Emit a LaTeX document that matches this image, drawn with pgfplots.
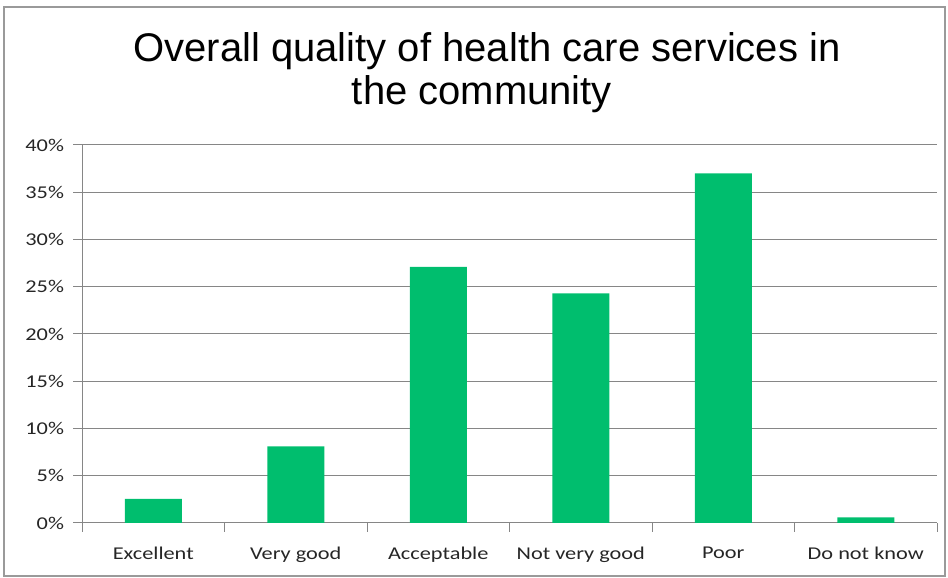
\documentclass[border=0pt]{standalone}
\usepackage{fontspec}
\setmainfont[FakeStretch=1.24]{Carlito}
\newfontfamily\titlefont{Liberation Sans}
\usepackage{pgfplots}
\pgfplotsset{compat=1.18}
\definecolor{barg}{HTML}{00BE6E}
\definecolor{gridc}{HTML}{868686}
\definecolor{framec}{HTML}{9A9A9A}
\begin{document}
\begin{tikzpicture}[x=1pt,y=1pt]
\begin{axis}[
  scale only axis, width=855pt, height=378pt,
  xmin=-0.5, xmax=5.5, ymin=0, ymax=40,
  axis x line*=bottom, axis y line*=left,
  axis line style={draw=gridc, line width=1pt, -},
  xtick={0,...,5},
  xticklabels={Excellent,Very good,Acceptable,Not very good,Poor,Do not know},
  major x tick style={draw=none},
  minor xtick={-0.5,0.5,1.5,2.5,3.5,4.5,5.5},
  minor x tick style={draw=gridc, line width=1pt},
  ytick={0,5,...,40},
  yticklabels={0\%,5\%,10\%,15\%,20\%,25\%,30\%,35\%,40\%},
  ymajorgrids,
  grid style={draw=gridc, line width=1pt},
  major y tick style={draw=gridc, line width=1pt},
  tick align=outside,
  major tick length=9pt, minor tick length=9pt,
  ticklabel style={font=\fontsize{18}{21}\selectfont, text=black!85},
  xticklabel style={yshift=-11pt},
  yticklabel style={xshift=-5.5pt},
  bar width=0.4,
  clip=false,
]
\addplot[ybar, fill=barg, draw=none] coordinates {
  (0,2.55) (1,8.1) (2,27.1) (3,24.3) (4,37.0) (5,0.6)
};
\path (rel axis cs:-0.09591,-0.14550) rectangle (rel axis cs:1.01287,1.38360);
\draw[framec, line width=1.3pt] (rel axis cs:-0.09123,-0.14021) rectangle (rel axis cs:1.00936,1.36508);
\node[font=\titlefont\fontsize{40}{45}\selectfont, anchor=base, text=black, inner sep=0pt]
  at (rel axis cs:0.47368,1.21958) {Overall quality of health care services in};
\node[font=\titlefont\fontsize{40}{45}\selectfont, anchor=base, text=black, inner sep=0pt]
  at (rel axis cs:0.46784,1.10582) {the community};
\end{axis}
\end{tikzpicture}
\end{document}
